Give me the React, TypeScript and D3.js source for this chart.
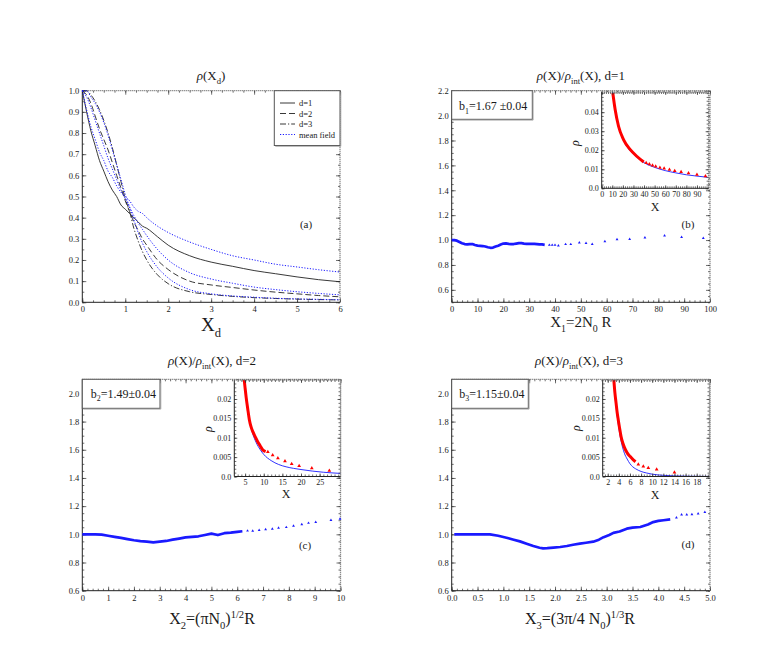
import { useEffect, useRef } from 'react'
import * as d3 from 'd3'

const W = 763
const H = 654
const SERIF = "'Liberation Serif', 'Times New Roman', Times, 'DejaVu Serif', serif"
const BLUE = '#1a1aff'
const RED = '#ff0000'
const INK = '#1a1a1a'

// ---- panel (a): rho(X_d) ----
const xA = [0, 0.1, 0.2, 0.3, 0.4, 0.5, 0.6, 0.7, 0.8, 0.9, 1.0, 1.1, 1.2, 1.3, 1.4, 1.5, 1.75, 2, 2.5, 3, 3.5, 4, 4.5, 5, 5.5, 6]
const rhoD1 = [1.0, 0.9, 0.81, 0.74, 0.67, 0.62, 0.57, 0.53, 0.5, 0.46, 0.44, 0.42, 0.4, 0.38, 0.36, 0.35, 0.31, 0.27, 0.22, 0.19, 0.17, 0.15, 0.135, 0.12, 0.107, 0.097]
const rhoD2 = [1.0, 0.98, 0.94, 0.88, 0.82, 0.77, 0.72, 0.66, 0.6, 0.54, 0.48, 0.43, 0.38, 0.34, 0.3, 0.27, 0.2, 0.155, 0.1, 0.082, 0.07, 0.058, 0.048, 0.04, 0.032, 0.026]
const rhoD3 = [1.0, 1.0, 0.98, 0.95, 0.91, 0.86, 0.8, 0.73, 0.65, 0.57, 0.49, 0.43, 0.35, 0.29, 0.24, 0.2, 0.13, 0.088, 0.05, 0.037, 0.028, 0.022, 0.018, 0.015, 0.013, 0.011]
const mf1 = [1.0, 0.91, 0.83, 0.77, 0.71, 0.67, 0.62, 0.59, 0.55, 0.52, 0.5, 0.48, 0.45, 0.43, 0.42, 0.4, 0.36, 0.33, 0.285, 0.25, 0.22, 0.2, 0.18, 0.167, 0.154, 0.143]
const mf2 = [1.0, 0.97, 0.92, 0.86, 0.8, 0.74, 0.68, 0.63, 0.58, 0.53, 0.49, 0.45, 0.41, 0.375, 0.345, 0.315, 0.25, 0.2, 0.14, 0.11, 0.09, 0.072, 0.06, 0.05, 0.042, 0.035]
const mf3 = [1.0, 1.0, 0.97, 0.94, 0.9, 0.85, 0.79, 0.72, 0.65, 0.58, 0.51, 0.45, 0.39, 0.33, 0.28, 0.24, 0.165, 0.115, 0.06, 0.04, 0.03, 0.024, 0.019, 0.016, 0.014, 0.012]
const legendLabels = ['d=1', 'd=2', 'd=3', 'mean field']

// ---- panel (b): d=1 ----
const bDenseX = [0, 1, 2, 3, 4, 5, 6, 7, 8, 9, 10, 11, 12, 13, 14, 15, 16, 17, 18, 19, 20, 21, 22, 23, 24, 25, 26, 27, 28, 29, 30, 31, 32, 33, 34, 35, 36]
const bDenseY = [1.0, 1.0, 0.995, 0.985, 0.975, 0.968, 0.965, 0.968, 0.968, 0.96, 0.955, 0.954, 0.952, 0.948, 0.942, 0.938, 0.94, 0.948, 0.955, 0.965, 0.972, 0.973, 0.97, 0.968, 0.968, 0.972, 0.976, 0.975, 0.972, 0.97, 0.97, 0.97, 0.97, 0.968, 0.965, 0.965, 0.962]
const bSparseX = [37.8, 38.9, 40.0, 41.3, 44.1, 46.1, 49.4, 52.0, 54.4, 59.3, 64.0, 68.9, 74.8, 82.4, 89.0, 97.4]
const bSparseY = [0.96, 0.96, 0.96, 0.955, 0.966, 0.966, 0.98, 0.975, 0.967, 0.989, 1.005, 1.008, 1.019, 1.035, 1.024, 1.016]
const bInRedX = [10.5, 12.7, 15.9, 20.6, 27, 33.4, 39.7]
const bInRedY = [0.05, 0.0414, 0.0326, 0.0256, 0.0203, 0.0167, 0.0138]
const bInTriX = [42, 45, 48, 51, 55, 59, 64, 69, 75, 82, 90, 98]
const bInTriY = [0.0131, 0.0124, 0.0118, 0.0112, 0.0106, 0.0102, 0.0095, 0.0089, 0.0083, 0.0077, 0.0069, 0.0061]
const bInBlueX = [10, 12, 14, 16, 18, 20, 25, 30, 35, 40, 50, 60, 70, 80, 90, 100]
const bInBlueY = [0.052, 0.043, 0.037, 0.033, 0.029, 0.026, 0.021, 0.018, 0.0155, 0.0135, 0.011, 0.0093, 0.0081, 0.0071, 0.0064, 0.0058]

// ---- panel (c): d=2 ----
const cDenseX = [0, 0.25, 0.5, 0.75, 1, 1.25, 1.5, 1.75, 2, 2.25, 2.5, 2.75, 3, 3.25, 3.5, 3.75, 4, 4.25, 4.5, 4.75, 5, 5.25, 5.5, 5.75, 6, 6.2]
const cDenseY = [1.0, 1.0, 1.0, 0.998, 0.99, 0.982, 0.975, 0.966, 0.958, 0.952, 0.948, 0.943, 0.948, 0.953, 0.962, 0.97, 0.978, 0.982, 0.986, 0.995, 1.005, 0.995, 1.008, 1.012, 1.018, 1.022]
const cSparseX = [6.4, 6.6, 6.85, 7.1, 7.36, 7.6, 7.9, 8.18, 8.5, 8.76, 9.04, 9.63, 9.98]
const cSparseY = [1.025, 1.024, 1.03, 1.035, 1.038, 1.045, 1.05, 1.06, 1.07, 1.08, 1.087, 1.1, 1.11]
const cInRedX = [4.75, 5.0, 5.3, 5.7, 6.15, 6.6, 7.1, 7.7, 8.3, 9.0, 9.7, 10.5]
const cInRedY = [0.025, 0.0228, 0.0203, 0.0175, 0.0146, 0.0128, 0.0115, 0.0103, 0.0091, 0.008, 0.0069, 0.0064]
const cInTriX = [11.1, 12.4, 13.8, 15.7, 17.5, 19.5, 22.9, 27.6]
const cInTriY = [0.0062, 0.0054, 0.0046, 0.0038, 0.0031, 0.0026, 0.002, 0.0014]
const cInBlueX = [4.75, 5.3, 6.15, 7, 8, 9, 10, 12, 14, 16, 18, 20, 23, 26, 30.6]
const cInBlueY = [0.025, 0.0203, 0.0146, 0.0112, 0.0087, 0.007, 0.0057, 0.0041, 0.0031, 0.0025, 0.0021, 0.0018, 0.0014, 0.0011, 0.0008]

// ---- panel (d): d=3 ----
const dDenseX = [0.05, 0.25, 0.5, 0.74, 0.9, 1.06, 1.2, 1.32, 1.45, 1.58, 1.7, 1.77, 1.85, 1.97, 2.1, 2.23, 2.35, 2.48, 2.6, 2.74, 2.85, 2.94, 3.05, 3.13, 3.25, 3.39, 3.5, 3.65, 3.8, 3.9, 4.0, 4.1, 4.23]
const dDenseY = [1.0, 1.0, 1.0, 1.0, 0.99, 0.976, 0.962, 0.95, 0.933, 0.917, 0.905, 0.9, 0.902, 0.906, 0.91, 0.917, 0.926, 0.934, 0.94, 0.948, 0.962, 0.98, 0.995, 1.01, 1.02, 1.04, 1.048, 1.052, 1.07, 1.087, 1.095, 1.1, 1.106]
const dSparseX = [4.35, 4.45, 4.55, 4.65, 4.77, 4.9]
const dSparseY = [1.118, 1.14, 1.14, 1.142, 1.146, 1.158]
const dInRedX = [3.1, 3.3, 3.5, 3.7, 3.9, 4.1, 4.4, 4.7, 5.0, 5.5, 6.0, 6.6, 7.0]
const dInRedY = [0.025, 0.0215, 0.019, 0.0165, 0.0146, 0.0128, 0.0103, 0.0087, 0.0075, 0.0061, 0.0052, 0.0043, 0.0038]
const dInTriX = [7.5, 8.4, 9.3, 10.8, 14]
const dInTriY = [0.003, 0.0025, 0.0021, 0.0017, 0.0009]
const dInBlueX = [3.1, 3.3, 3.5, 3.9, 4.4, 5, 5.5, 6, 6.5, 7, 8, 9, 10, 12, 14, 16, 18, 20.3]
const dInBlueY = [0.025, 0.021, 0.0182, 0.0135, 0.0092, 0.006, 0.0045, 0.0033, 0.0025, 0.002, 0.0013, 0.0009, 0.0006, 0.0003, 0.00015, 0.00008, 0.00004, 0.00002]

type Part = [string, ('n' | 'sub' | 'sup' | 'i')?]
type Sel = d3.Selection<any, unknown, null, undefined>
type Lin = d3.ScaleLinear<number, number>

const zip = (xs: number[], ys: number[]) => xs.map((x, i) => [x, ys[i]] as [number, number])
const range = (a: number, b: number, s: number) => d3.range(a, b + s / 2, s)

function rich(g: Sel, x: number, y: number, parts: Part[], fs: number, anchor = 'middle') {
  const t = g.append('text').attr('x', x).attr('y', y)
    .style('font-family', SERIF).attr('font-size', fs)
    .attr('text-anchor', anchor).attr('fill', INK)
  let shift = 0
  parts.forEach(([s, k = 'n']) => {
    const target = k === 'sub' ? fs * 0.3 : k === 'sup' ? -fs * 0.4 : 0
    const sp = t.append('tspan').text(s).attr('dy', target - shift)
    shift = target
    if (k === 'sub' || k === 'sup') sp.attr('font-size', fs * 0.66)
    if (k === 'i') sp.attr('font-style', 'italic')
  })
  return t
}

interface FrameOpt {
  xTicks: number[]
  yTicks: number[]
  xMinor: number[]
  yMinor: number[]
  xFmt: (v: number) => string
  yFmt: (v: number) => string
  fs: number
  tick?: number
  xPad?: number
}

function frame(svg: Sel, x: Lin, y: Lin, o: FrameOpt) {
  const [x0, x1] = x.range()
  const [y0, y1] = y.range()
  const tk = o.tick ?? 4
  const g = svg.append('g')
  const put = (axis: any, tr: string) => {
    const a = g.append('g').attr('transform', tr).call(axis)
    a.attr('font-family', null).style('font-family', SERIF)
    a.select('.domain').remove()
    a.selectAll('line').attr('stroke', '#333').attr('stroke-width', 0.7)
    a.selectAll('text').style('font-family', SERIF).attr('font-size', o.fs).attr('fill', INK)
    return a
  }
  const none = () => ''
  put(d3.axisLeft(y).tickValues(o.yMinor).tickSize(-2).tickFormat(none), `translate(${x0},0)`)
  put(d3.axisRight(y).tickValues(o.yMinor).tickSize(-2).tickFormat(none), `translate(${x1},0)`)
  put(d3.axisBottom(x).tickValues(o.xMinor).tickSize(-2).tickFormat(none), `translate(0,${y0})`)
  put(d3.axisTop(x).tickValues(o.xMinor).tickSize(-2).tickFormat(none), `translate(0,${y1})`)
  put(d3.axisLeft(y).tickValues(o.yTicks).tickSize(-tk).tickPadding(3).tickFormat(o.yFmt as any), `translate(${x0},0)`)
  put(d3.axisRight(y).tickValues(o.yTicks).tickSize(-tk).tickFormat(none), `translate(${x1},0)`)
  put(d3.axisBottom(x).tickValues(o.xTicks).tickSize(-tk).tickPadding(o.xPad ?? 4).tickFormat(o.xFmt as any), `translate(0,${y0})`)
  put(d3.axisTop(x).tickValues(o.xTicks).tickSize(-tk).tickFormat(none), `translate(0,${y1})`)
  // border: solid left/bottom, dotted grey top/right
  g.append('line').attr('x1', x0).attr('x2', x0).attr('y1', y0).attr('y2', y1).attr('stroke', '#222').attr('stroke-width', 1)
  g.append('line').attr('x1', x0).attr('x2', x1).attr('y1', y0).attr('y2', y0).attr('stroke', '#222').attr('stroke-width', 1)
  g.append('line').attr('x1', x0).attr('x2', x1).attr('y1', y1).attr('y2', y1).attr('stroke', '#666').attr('stroke-width', 1.3).attr('stroke-dasharray', '1,1')
  g.append('line').attr('x1', x1).attr('x2', x1).attr('y1', y0).attr('y2', y1).attr('stroke', '#666').attr('stroke-width', 1.3).attr('stroke-dasharray', '1,1')
}

function box(svg: Sel, x0: number, y0: number, x1: number, y1: number) {
  svg.append('rect').attr('x', x0).attr('y', y0).attr('width', x1 - x0).attr('height', y1 - y0)
    .attr('fill', 'white').attr('stroke', '#555').attr('stroke-width', 1)
  svg.append('path').attr('d', `M${x1 + 0.8},${y0 + 1}V${y1 + 0.8}H${x0 + 1}`)
    .attr('fill', 'none').attr('stroke', '#999').attr('stroke-width', 0.8)
}

const fmt1 = (v: number) => d3.format('.1f')(v)
const fmtInt = (v: number) => String(v)
const fmtRho = (v: number) => (v === 0 ? '0.0' : String(+v.toFixed(4)))

function ratioPanel(svg: Sel, r: { x0: number; x1: number; y0: number; y1: number },
  xDom: [number, number], xTicks: number[], xMinor: number[], xFmt: (v: number) => string,
  yDom: [number, number], denseX: number[], denseY: number[], sparseX: number[], sparseY: number[]) {
  const x = d3.scaleLinear().domain(xDom).range([r.x0, r.x1])
  const y = d3.scaleLinear().domain(yDom).range([r.y1, r.y0])
  frame(svg, x, y, {
    xTicks, yTicks: range(0.6, yDom[1] + 0.001, 0.2).filter(v => v <= yDom[1] + 1e-6),
    xMinor, yMinor: range(yDom[0], yDom[1], 0.05),
    xFmt, yFmt: fmt1, fs: 8.5,
  })
  const line = d3.line<[number, number]>().x(d => x(d[0])).y(d => y(d[1])).curve(d3.curveLinear)
  svg.append('path').datum(zip(denseX, denseY)).attr('d', line)
    .attr('fill', 'none').attr('stroke', BLUE).attr('stroke-width', 2.7).attr('stroke-linejoin', 'round')
  const tri = d3.symbol().type(d3.symbolTriangle).size(3.5)
  svg.append('g').selectAll('path').data(zip(sparseX, sparseY)).join('path')
    .attr('d', tri).attr('transform', d => `translate(${x(d[0])},${y(d[1])})`).attr('fill', BLUE)
}

function inset(svg: Sel, id: string, r: { x0: number; x1: number; y0: number; y1: number },
  xDom: [number, number], xTicks: number[], xMinor: number[], yDom: [number, number], yTicks: number[], yMinor: number[],
  redX: number[], redY: number[], triX: number[], triY: number[], blueX: number[], blueY: number[], lab: { rx: number; ry: number; xx: number; xy: number }) {
  const x = d3.scaleLinear().domain(xDom).range([r.x0, r.x1])
  const y = d3.scaleLinear().domain(yDom).range([r.y1, r.y0])
  svg.append('rect').attr('x', r.x0).attr('y', r.y0).attr('width', r.x1 - r.x0).attr('height', r.y1 - r.y0).attr('fill', 'white')
  svg.append('clipPath').attr('id', id).append('rect')
    .attr('x', r.x0).attr('y', r.y0).attr('width', r.x1 - r.x0).attr('height', r.y1 - r.y0)
  const g = svg.append('g').attr('clip-path', `url(#${id})`)
  const line = d3.line<[number, number]>().x(d => x(d[0])).y(d => y(d[1])).curve(d3.curveMonotoneX)
  g.append('path').datum(zip(blueX, blueY)).attr('d', line).attr('fill', 'none').attr('stroke', BLUE).attr('stroke-width', 0.9)
  g.append('path').datum(zip(redX, redY)).attr('d', line).attr('fill', 'none').attr('stroke', RED).attr('stroke-width', 3)
  const tri = d3.symbol().type(d3.symbolTriangle).size(6)
  g.selectAll('path.tri').data(zip(triX, triY)).join('path').attr('class', 'tri')
    .attr('d', tri).attr('transform', d => `translate(${x(d[0])},${y(d[1]) - 0.5})`).attr('fill', RED)
  frame(svg, x, y, { xTicks, yTicks, xMinor, yMinor, xFmt: fmtInt, yFmt: fmtRho, fs: 8, tick: 3, xPad: 3 })
  rich(svg, lab.rx, lab.ry, [['ρ', 'i']], 12).attr('transform', `rotate(-90,${lab.rx},${lab.ry})`)
  rich(svg, lab.xx, lab.xy, [['X']], 12)
}

export default function App() {
  const ref = useRef<SVGSVGElement>(null)

  useEffect(() => {
    if (!ref.current) return
    const svg = d3.select(ref.current)
    svg.selectAll('*').remove()
    svg.append('rect').attr('width', W).attr('height', H).attr('fill', 'white')

    // ---------- (a) ----------
    const xa = d3.scaleLinear().domain([0, 6]).range([82.3, 340])
    const ya = d3.scaleLinear().domain([0, 1]).range([302.3, 90.7])
    frame(svg, xa, ya, {
      xTicks: range(0, 6, 1), yTicks: range(0, 1, 0.1),
      xMinor: range(0, 6, 0.25), yMinor: range(0, 1, 0.05),
      xFmt: fmtInt, yFmt: fmt1, fs: 8.5,
    })
    const lineA = d3.line<[number, number]>().x(d => xa(d[0])).y(d => ya(d[1])).curve(d3.curveMonotoneX)
    const seriesA = [
      { v: rhoD1, stroke: '#222', dash: null, w: 0.9 },
      { v: rhoD2, stroke: '#222', dash: '6,3', w: 0.9 },
      { v: rhoD3, stroke: '#222', dash: '6,2,1.2,2', w: 0.9 },
      { v: mf1, stroke: BLUE, dash: '1.2,1.6', w: 1 },
      { v: mf2, stroke: BLUE, dash: '1.2,1.6', w: 1 },
      { v: mf3, stroke: BLUE, dash: '1.2,1.6', w: 1 },
    ]
    seriesA.forEach(s => {
      svg.append('path').datum(zip(xA, s.v)).attr('d', lineA)
        .attr('fill', 'none').attr('stroke', s.stroke).attr('stroke-width', s.w)
        .attr('stroke-dasharray', s.dash)
    })
    // legend
    box(svg, 274.3, 90.7, 340, 145.5)
    const legStyles = [seriesA[0], seriesA[1], seriesA[2], seriesA[3]]
    legendLabels.forEach((lab, i) => {
      const yy = 103 + i * 10.5
      svg.append('line').attr('x1', 280).attr('x2', 295).attr('y1', yy).attr('y2', yy)
        .attr('stroke', legStyles[i].stroke).attr('stroke-width', legStyles[i].w)
        .attr('stroke-dasharray', legStyles[i].dash)
      svg.append('text').attr('x', 299).attr('y', yy + 3).text(lab)
        .style('font-family', SERIF).attr('font-size', 8.5).attr('fill', INK)
    })
    rich(svg, 211, 80, [['ρ', 'i'], ['(X'], ['d', 'sub'], [')']], 13)
    rich(svg, 211, 331, [['X'], ['d', 'sub']], 19)
    rich(svg, 306, 228, [['(a)']], 11)

    // ---------- (b) ----------
    ratioPanel(svg, { x0: 451.7, x1: 710, y0: 90.7, y1: 302.3 }, [0, 100], range(0, 100, 10), range(0, 100, 2), fmtInt,
      [0.5, 2.2], bDenseX, bDenseY, bSparseX, bSparseY)
    box(svg, 451.7, 90.7, 532.3, 119.3)
    rich(svg, 459, 110, [['b'], ['1', 'sub'], ['=1.67 ±0.04']], 12, 'start')
    inset(svg, 'clipB', { x0: 601.7, x1: 708.6, y0: 92, y1: 188.3 }, [0, 101], range(0, 90, 10), range(0, 100, 2),
      [0, 0.0506], range(0, 0.04, 0.01), range(0, 0.05, 0.002),
      bInRedX, bInRedY, bInTriX, bInTriY, bInBlueX, bInBlueY, { rx: 579, ry: 143, xx: 655, xy: 211 })
    rich(svg, 580.9, 80, [['ρ', 'i'], ['(X)/'], ['ρ', 'i'], ['int', 'sub'], ['(X), d=1']], 13)
    rich(svg, 580.9, 327, [['X'], ['1', 'sub'], ['=2N'], ['0', 'sub'], [' R']], 15)
    rich(svg, 688, 228, [['(b)']], 11)

    // ---------- (c) ----------
    ratioPanel(svg, { x0: 82.3, x1: 340.5, y0: 379.3, y1: 590.7 }, [0, 10], range(0, 10, 1), range(0, 10, 0.2), fmtInt,
      [0.6, 2.1], cDenseX, cDenseY, cSparseX, cSparseY)
    box(svg, 82.3, 379.3, 160, 408.3)
    rich(svg, 90.7, 397.5, [['b'], ['2', 'sub'], ['=1.49±0.04']], 12, 'start')
    inset(svg, 'clipC', { x0: 234.3, x1: 340.5, y0: 380, y1: 476.5 }, [2.1, 30.6], range(5, 25, 5), range(3, 30, 1),
      [0, 0.0249], range(0, 0.02, 0.005), range(0, 0.024, 0.001),
      cInRedX, cInRedY, cInTriX, cInTriY, cInBlueX, cInBlueY, { rx: 212, ry: 429, xx: 286, xy: 498 })
    rich(svg, 212, 365, [['ρ', 'i'], ['(X)/'], ['ρ', 'i'], ['int', 'sub'], ['(X), d=2']], 13)
    rich(svg, 212, 624, [['X'], ['2', 'sub'], ['=(πN'], ['0', 'sub'], [')'], ['1/2', 'sup'], ['R']], 16)
    rich(svg, 305, 549, [['(c)']], 11)

    // ---------- (d) ----------
    ratioPanel(svg, { x0: 451.7, x1: 710, y0: 379.3, y1: 590.7 }, [0, 5], range(0, 5, 0.5), range(0, 5, 0.1), fmt1,
      [0.6, 2.1], dDenseX, dDenseY, dSparseX, dSparseY)
    box(svg, 451.7, 379.3, 528.3, 408.3)
    rich(svg, 459.3, 397.5, [['b'], ['3', 'sub'], ['=1.15±0.04']], 12, 'start')
    inset(svg, 'clipD', { x0: 602.7, x1: 709.5, y0: 380, y1: 476.5 }, [1.1, 20.3], range(2, 18, 2), range(1.5, 20, 0.5),
      [0, 0.0249], range(0, 0.02, 0.005), range(0, 0.024, 0.001),
      dInRedX, dInRedY, dInTriX, dInTriY, dInBlueX, dInBlueY, { rx: 580, ry: 428, xx: 655, xy: 499 })
    rich(svg, 579, 365, [['ρ', 'i'], ['(X)/'], ['ρ', 'i'], ['int', 'sub'], ['(X), d=3']], 13)
    rich(svg, 580, 624, [['X'], ['3', 'sub'], ['=(3π/4 N'], ['0', 'sub'], [')'], ['1/3', 'sup'], ['R']], 16)
    rich(svg, 688, 548, [['(d)']], 11)
  }, [])

  return (
    <svg
      ref={ref}
      width={W}
      height={H}
      style={{ position: 'absolute', left: 0, top: 0, display: 'block' }}
    />
  )
}
